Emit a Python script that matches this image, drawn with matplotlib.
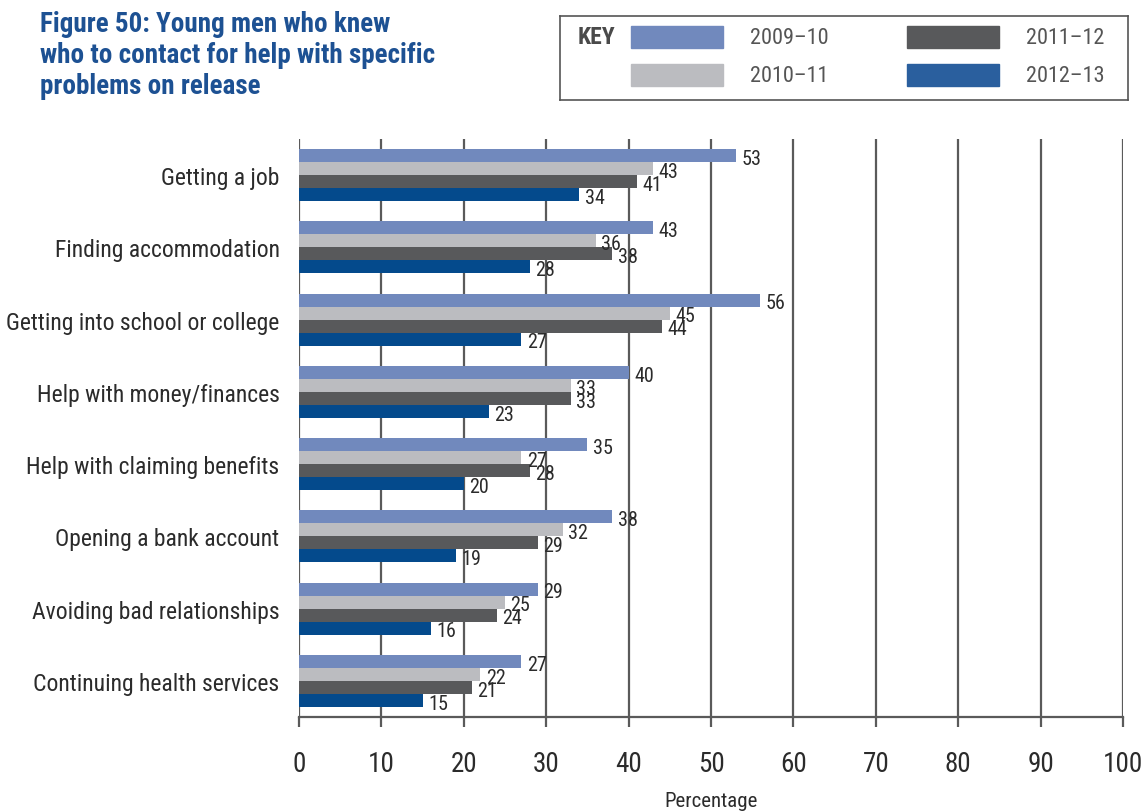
import matplotlib
matplotlib.use("Agg")
import matplotlib.pyplot as plt
from matplotlib.patches import Rectangle
import numpy as np

# data
categories = [
    "Getting a job",
    "Finding accommodation",
    "Getting into school or college",
    "Help with money/finances",
    "Help with claiming benefits",
    "Opening a bank account",
    "Avoiding bad relationships",
    "Continuing health services",
]
years = ["2009\u201310", "2010\u201311", "2011\u201312", "2012\u201313"]
v_2009 = [53, 43, 56, 40, 35, 38, 29, 27]
v_2010 = [43, 36, 45, 33, 27, 32, 25, 22]
v_2011 = [41, 38, 44, 33, 28, 29, 24, 21]
v_2012 = [34, 28, 27, 23, 20, 19, 16, 15]
x_ticks = [0, 10, 20, 30, 40, 50, 60, 70, 80, 90, 100]

colors = ["#7189BD", "#BBBCC0", "#58595B", "#044A8C"]
key_colors = ["#7189BD", "#BBBCC0", "#58595B", "#2A5F9E"]

plt.rcParams["font.family"] = ["Roboto Condensed", "DejaVu Sans"]
text_col = "#2b2b2b"

fig = plt.figure(figsize=(11.45, 8.12), dpi=100)
ax = fig.add_axes([299 / 1145, 94 / 812, 824 / 1145, 578 / 812])

series = [v_2009, v_2010, v_2011, v_2012]
h = 0.18
y = np.arange(len(categories))
for i, (vals, c) in enumerate(zip(series, colors)):
    pos = y - 0.27 + i * h
    ax.barh(pos, vals, height=h, color=c, zorder=3)
    for p, v in zip(pos, vals):
        ax.annotate(str(v), (v, p), xytext=(4, -2), textcoords="offset points",
                    va="center", ha="left", fontsize=14.5, color=text_col, zorder=4)

ax.set_xlim(0, 100)
ax.set_ylim(len(categories) - 0.5, -0.5)
ax.set_xticks(x_ticks)
ax.set_xticklabels([str(t) for t in x_ticks], fontsize=19.5, color=text_col)
ax.set_yticks(y)
ax.set_yticklabels(categories, fontsize=17, color=text_col)
ax.tick_params(axis="y", length=0, pad=14)
ax.tick_params(axis="x", length=7, width=1.6, color="#5a5a5a", pad=17, direction="out")
for t in x_ticks:
    ax.axvline(t, color="#5a5a5a", lw=1.6, zorder=1)
for s in ["top", "right", "left"]:
    ax.spines[s].set_visible(False)
ax.spines["bottom"].set_color("#5a5a5a")
ax.spines["bottom"].set_linewidth(1.6)
ax.set_xlabel("Percentage", fontsize=15, color=text_col, labelpad=10)

fig.text(40 / 1145, 1 - 11 / 812,
         "Figure 50: Young men who knew\nwho to contact for help with specific\nproblems on release",
         fontsize=19.5, fontweight="bold", color="#1D5193", va="top", ha="left",
         linespacing=1.2)

# key box
kax = fig.add_axes([560 / 1145, 1 - 101 / 812, 568 / 1145, 84 / 812])
kax.set_xlim(0, 568)
kax.set_ylim(84, 0)
kax.set_xticks([])
kax.set_yticks([])
for s in kax.spines.values():
    s.set_color("#555555")
    s.set_linewidth(1.2)
kax.text(18, 21, "KEY", fontsize=17, fontweight="bold", color="#4a4a4a", va="center")
for i, (name, c) in enumerate(zip(years, key_colors)):
    col, row = divmod(i, 2)
    x0 = 71 + col * 276
    y0 = 10 + row * 38
    kax.add_patch(Rectangle((x0, y0), 92, 22, color=c))
    kax.text(x0 + 119, y0 + 11, name, fontsize=16, color="#555555", va="center")

fig.savefig("out.png", dpi=100)
